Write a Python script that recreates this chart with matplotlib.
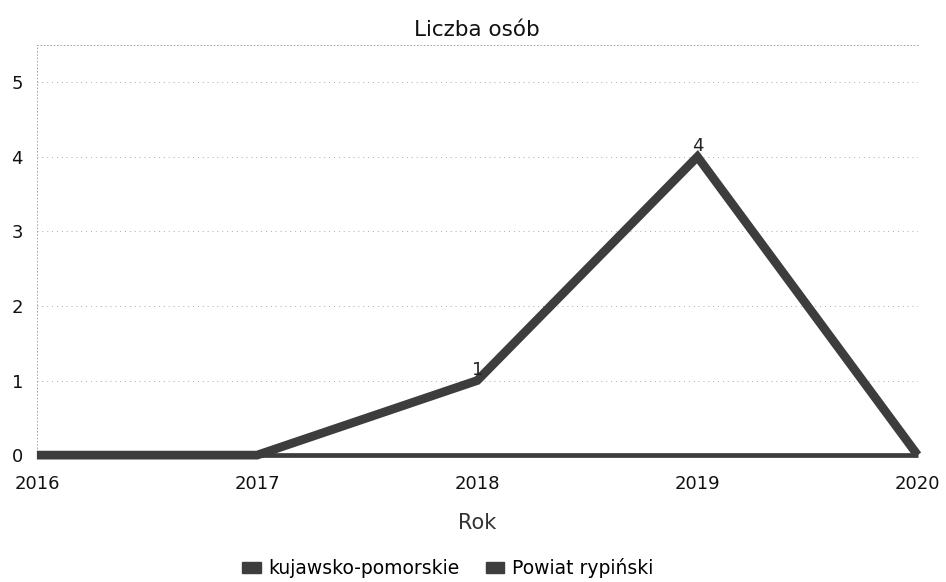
import numpy as np
import matplotlib as mpl
mpl.use('Agg')
import matplotlib.pyplot as plt
from matplotlib.patches import Patch

# data
years = [2016, 2017, 2018, 2019, 2020]
kujawsko = [0, 0, 1, 4, 0]
powiat = [0, 0, 0, 0, 0]
labels_show = {2018: 1, 2019: 4}

plt.rcParams['font.family'] = ['DejaVu Sans']

fig = plt.figure(figsize=(9.46, 5.82), dpi=100)
ax = fig.add_axes([0.039, 0.218, 0.931, 0.705])

line_col = '#3d3d3d'
ax.plot(years, powiat, color=line_col, lw=3.4, solid_capstyle='butt', zorder=3, clip_on=False)
ax.plot(years, kujawsko, color=line_col, lw=6.3, solid_joinstyle='miter',
        solid_capstyle='butt', zorder=4, clip_on=False)

for x, v in labels_show.items():
    ax.text(x, v + 0.02, str(v), ha='center', va='bottom', fontsize=13, color='#222222', zorder=5)

ax.set_xlim(2016, 2020)
ax.set_ylim(0, 5.5)
ax.set_xticks(years)
ax.set_yticks([0, 1, 2, 3, 4, 5])
ax.grid(axis='y', color='#aaaaaa', lw=0.7, ls=(0, (1, 4)))
for s in ['right', 'bottom']:
    ax.spines[s].set_visible(False)
for s in ['left', 'top']:
    ax.spines[s].set_color('#999999')
    ax.spines[s].set_linestyle((0, (1, 3)))
    ax.spines[s].set_linewidth(0.6)
ax.tick_params(length=0, labelsize=13, colors='#111111')
ax.tick_params(axis='x', pad=14)
ax.tick_params(axis='y', pad=10)

ax.set_title('Liczba osób', fontsize=15.5, pad=6, color='#111111')
ax.set_xlabel('Rok', fontsize=15, labelpad=15, color='#333333')

handles = [Patch(color=line_col), Patch(color=line_col)]
fig.legend(handles, ['kujawsko-pomorskie', 'Powiat rypiński'], loc='center',
           bbox_to_anchor=(0.473, 0.024), ncol=2, frameon=False, fontsize=13.5,
           handlelength=1.0, handleheight=0.5, handletextpad=0.4, columnspacing=1.4)

fig.savefig('out.png', dpi=100)
